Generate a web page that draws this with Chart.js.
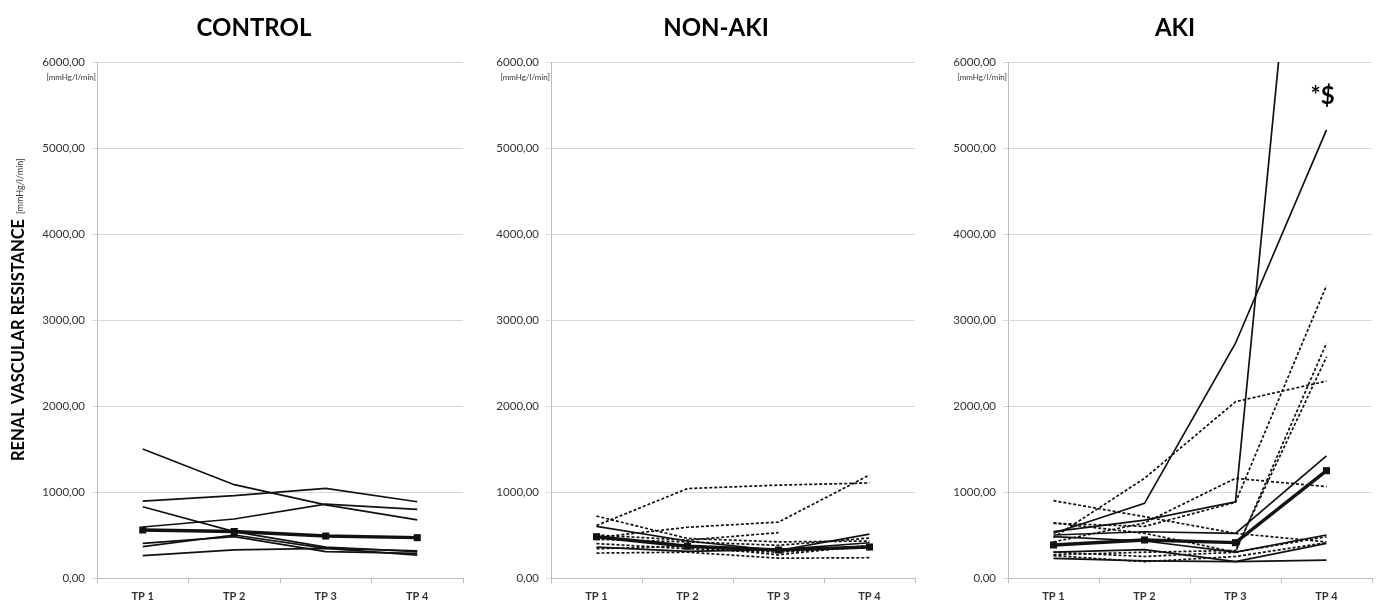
<!DOCTYPE html>
<html>
<head>
<meta charset="utf-8">
<script src="https://cdn.jsdelivr.net/npm/chart.js@4.4.1/dist/chart.umd.min.js"></script>
<style>
  html, body { margin: 0; padding: 0; background: #fff; }
  #wrap { position: relative; width: 1379px; height: 609px; overflow: hidden; }
  .panel { position: absolute; top: 0; height: 609px; }
</style>
</head>
<body>
<div id="wrap">
  <div class="panel" style="left:0;width:470px"><canvas id="cControl"></canvas></div>
  <div class="panel" style="left:470px;width:455px"><canvas id="cNonAki"></canvas></div>
  <div class="panel" style="left:925px;width:454px"><canvas id="cAki"></canvas></div>
</div>
<script>
// Time points and axis range
const timepoints = ['TP 1', 'TP 2', 'TP 3', 'TP 4'];
const yMin = 0, yMax = 6000, yStep = 1000;

// Renal vascular resistance [mmHg/l/min] – CONTROL group
const controlMean = [558, 540, 488, 469];
const control1 = [1500, 1085, 850, 675];
const control2 = [895, 957, 1043, 887];
const control3 = [829, 540, 360, 306];
const control4 = [593, 686, 860, 799];
const control5 = [403, 480, 306, 287];
const control6 = [364, 500, 345, 317];
const control7 = [260, 326, 345, 267];

// NON-AKI group
const nonAkiMean = [480, 370, 325, 360];
const nonAki1 = [610, 1040, 1080, 1105];
const nonAki2 = [470, 590, 650, 1198];
const nonAki3 = [720, 460, 420, 430];
const nonAki4 = [600, 430, 320, 510];
const nonAki5 = [500, 440, 527, null];
const nonAki6 = [400, 340, 300, 360];
const nonAki7 = [340, 370, 270, 380];
const nonAki8 = [290, 300, 230, 236];
const nonAki9 = [360, 310, 330, 410];
const nonAki10 = [450, 420, 380, 465];

// AKI group
const akiMean = [384, 442, 411, 1248];
const aki1 = [520, 868, 2730, 5210];
const aki2 = [470, 1159, 2050, 2290];
const aki3 = [540, 674, 887, 11700];
const aki4 = [899, 713, 519, 420];
const aki5 = [636, 600, 880, 3400];
const aki6 = [300, 250, 300, 2730];
const aki7 = [270, 300, 320, 2570];
const aki8 = [420, 640, 1159, 1062];
const aki9 = [500, 538, 519, 1419];
const aki10 = [480, 430, 300, 500];
const aki11 = [300, 330, 190, 403];
const aki12 = [229, 200, 190, 209];
const aki13 = [260, 190, 250, 410];
const aki14 = [640, 520, 300, 480];

const FONT = 'Lato, "Open Sans", "DejaVu Sans", sans-serif';
const INK = '#111111';
const LABEL = '#333333';

function thin(values, dashed) {
  return {
    data: values,
    borderColor: INK,
    borderWidth: 1.7,
    borderDash: dashed ? [3, 2] : [],
    pointRadius: 0,
    tension: 0,
    spanGaps: false,
    order: 2
  };
}
function meanLine(values) {
  return {
    data: values,
    borderColor: INK,
    backgroundColor: INK,
    borderWidth: 3.4,
    pointStyle: 'rect',
    pointRadius: 5,
    pointBorderWidth: 0,
    tension: 0,
    order: 1
  };
}

// Text decorations drawn on each panel: heading, unit under top tick, extras
const panelText = {
  id: 'panelText',
  afterDraw(chart, args, opts) {
    const ctx = chart.ctx;
    const area = chart.chartArea;
    ctx.save();
    ctx.fillStyle = '#000';
    ctx.textBaseline = 'middle';
    ctx.textAlign = 'center';
    ctx.font = 'bold 24px ' + FONT;
    ctx.fillText(opts.title, opts.titleX, 28);

    ctx.fillStyle = LABEL;
    ctx.textAlign = 'right';
    ctx.font = '8px ' + FONT;
    ctx.fillText('[mmHg/l/min]', area.left - 1, 77);

    if (opts.yTitle) {
      ctx.save();
      ctx.translate(18, 461);
      ctx.rotate(-Math.PI / 2);
      ctx.textAlign = 'left';
      ctx.textBaseline = 'alphabetic';
      ctx.fillStyle = '#000';
      ctx.font = 'bold 16.5px ' + FONT;
      ctx.fillText('RENAL VASCULAR RESISTANCE', 0, 6);
      const w = ctx.measureText('RENAL VASCULAR RESISTANCE').width;
      ctx.fillStyle = LABEL;
      ctx.font = '9px ' + FONT;
      ctx.fillText('[mmHg/l/min]', w + 5, 5);
      ctx.restore();
    }
    if (opts.mark) {
      const x = chart.scales.x.getPixelForValue(opts.mark.index);
      const y = chart.scales.y.getPixelForValue(opts.mark.value);
      ctx.fillStyle = '#000';
      ctx.textAlign = 'center';
      ctx.textBaseline = 'middle';
      ctx.font = 'bold 24px ' + FONT;
      ctx.fillText(opts.mark.text, x - 4, y);
    }
    ctx.restore();
  }
};

function makePanel(canvasId, datasets, layout) {
  return new Chart(document.getElementById(canvasId), {
    type: 'line',
    data: { labels: timepoints, datasets: datasets },
    options: {
      responsive: true,
      maintainAspectRatio: false,
      animation: false,
      events: [],
      layout: { padding: { top: 62, right: layout.padRight, bottom: 0, left: 0 } },
      plugins: {
        legend: { display: false },
        tooltip: { enabled: false },
        title: { display: false },
        panelText: layout.text
      },
      scales: {
        x: {
          offset: true,
          grid: { offset: true, drawOnChartArea: false, tickLength: 5, color: '#bdbdbd' },
          border: { color: '#bdbdbd', width: 1 },
          ticks: { color: LABEL, font: { family: FONT, size: 11, weight: 'bold' }, padding: 7, maxRotation: 0 },
          afterFit(scale) { scale.height = 31; }
        },
        y: {
          min: yMin,
          max: yMax,
          grid: { color: '#d9d9d9', tickLength: 5, lineWidth: 1 },
          border: { color: '#bdbdbd', width: 1 },
          ticks: {
            stepSize: yStep,
            color: LABEL,
            padding: 7,
            font: { family: FONT, size: 11.5 },
            callback: v => v.toFixed(2).replace('.', ',')
          },
          afterFit(scale) { scale.width = layout.axisWidth; }
        }
      }
    },
    plugins: [panelText]
  });
}

makePanel('cControl', [
  thin(control1), thin(control2), thin(control3), thin(control4),
  thin(control5), thin(control6), thin(control7),
  meanLine(controlMean)
], { axisWidth: 97, padRight: 7, text: { title: 'CONTROL', titleX: 254, yTitle: true } });

makePanel('cNonAki', [
  thin(nonAki1, true), thin(nonAki2, true), thin(nonAki3, true), thin(nonAki4, false),
  thin(nonAki5, true), thin(nonAki6, true), thin(nonAki7, true), thin(nonAki8, true),
  thin(nonAki9, false), thin(nonAki10, true),
  meanLine(nonAkiMean)
], { axisWidth: 81, padRight: 10, text: { title: 'NON-AKI', titleX: 246 } });

makePanel('cAki', [
  thin(aki1, false), thin(aki2, true), thin(aki3, false), thin(aki4, true),
  thin(aki5, true), thin(aki6, true), thin(aki7, true), thin(aki8, true),
  thin(aki9, false), thin(aki10, false), thin(aki11, false), thin(aki12, false),
  thin(aki13, true), thin(aki14, true),
  meanLine(akiMean)
], { axisWidth: 83, padRight: 7, text: { title: 'AKI', titleX: 250, mark: { index: 3, value: 5600, text: '*$' } } });
</script>
</body>
</html>
